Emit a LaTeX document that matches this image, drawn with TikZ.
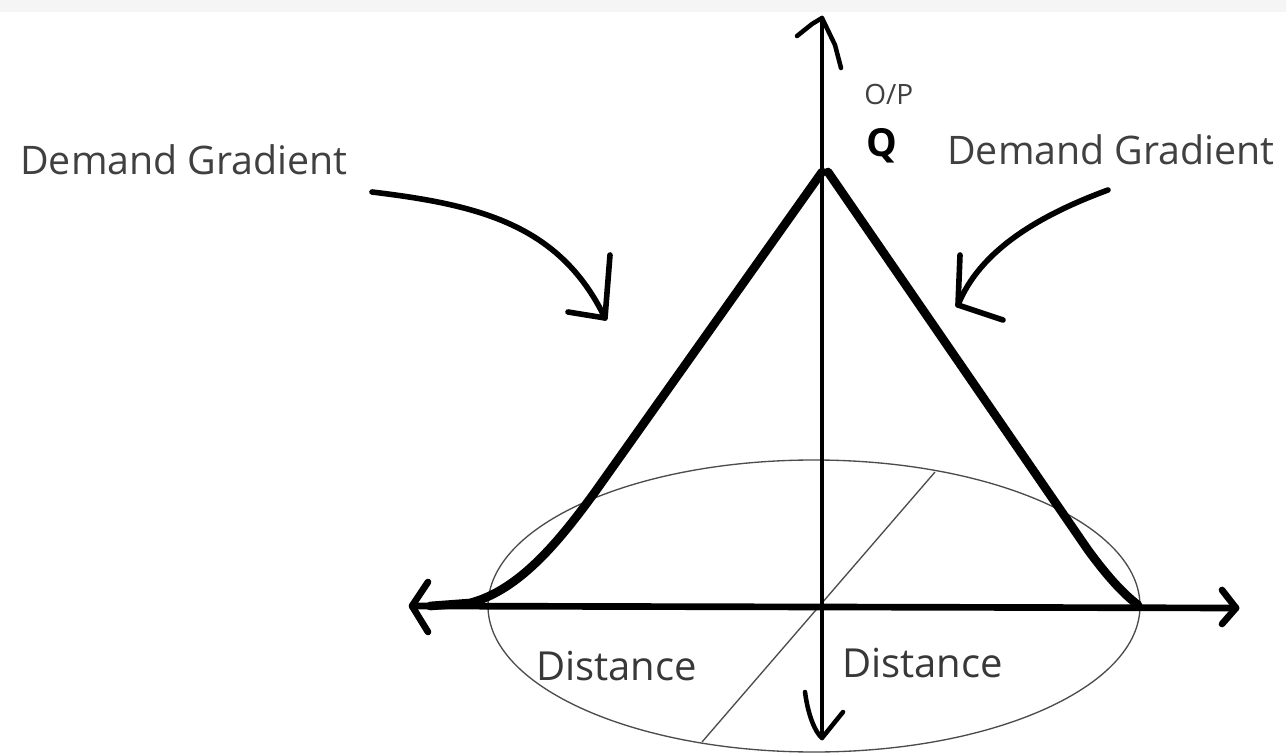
\documentclass[tikz,border=0pt]{standalone}
\usepackage{fontspec}
\setmainfont{Open Sans}
\begin{document}
\begin{tikzpicture}[x=0.75pt,y=-0.75pt,
  lbl/.style={text=black!75, inner sep=0pt, font=\fontsize{29.5}{31}\selectfont},
  dist/.style={text=black!78, inner sep=0pt, font=\fontsize{30}{32}\selectfont},
  axis/.style={line width=5pt, line cap=round, line join=round},
  vaxis/.style={line width=3.4pt, line cap=round, line join=round},
  thick3/.style={line width=6.5pt, line cap=round, line join=round},
  pen/.style={line width=4.2pt, line cap=round, line join=round},
  thin1/.style={line width=1pt, draw=black!70}]
\useasboundingbox (0,0) rectangle (1286,756);
\fill[white] (0,0) rectangle (1286,756);
\fill[black!4] (0,0) rectangle (1286,12);

% coordinates
\coordinate (O) at (822,607);
\coordinate (top) at (822,18);
\coordinate (bot) at (822,738);
\coordinate (left) at (412,606);
\coordinate (right) at (1236,608);
\coordinate (peak) at (822,172);
\coordinate (ldiag) at (935,472);
\coordinate (rdiag) at (702,742);

% ellipse
\draw[thin1] (814,606) ellipse [x radius=326, y radius=146];
% diagonal
\draw[thin1] (ldiag) -- (rdiag);

% vertical axis
\draw[vaxis] (top) -- (bot);
\draw[vaxis] (797,36) -- (812,24) -- (top) -- (835,45) -- (841,68);
\draw[vaxis] (805,692) .. controls (808,715) and (815,732) .. (bot) -- (843,712);

% horizontal axis
\draw[axis] (left) -- (right);
\draw[axis] (428,582) -- (left) -- (428,632);
\draw[axis] (1222,590) -- (right) -- (1222,624);

% demand cone
\draw[thick3] (430,606) -- (470,603) .. controls (520,590) and (560,540) .. (595,492) -- (peak);
\draw[thick3] (828,172) -- (1088,550) .. controls (1110,580) and (1125,595) .. (1138,605);

% curved arrows
\coordinate (la) at (372,192);
\coordinate (lt) at (605,318);
\draw[pen] (la) .. controls (480,205) and (560,225) .. (lt);
\draw[pen] (610,255) -- (lt) -- (568,312);
\coordinate (ra) at (1108,190);
\coordinate (rt) at (958,305);
\draw[pen] (ra) .. controls (1040,215) and (980,250) .. (rt);
\draw[pen] (960,255) -- (rt) -- (1003,320);

% labels
\node[lbl, anchor=west] (dgl) at (20,160) {Demand Gradient};
\node[lbl, anchor=west] (dgr) at (947,150) {Demand Gradient};
\node[inner sep=0pt, text=black!75, font=\fontsize{21}{23}\selectfont, anchor=west] (op) at (864,94) {O/P};
\node[inner sep=0pt, font=\fontsize{29}{31}\selectfont\bfseries, anchor=west] (q) at (866,146) {Q};
\node[dist, anchor=west] (d1) at (536,666) {Distance};
\node[dist, anchor=west] (d2) at (842,663) {Distance};
\end{tikzpicture}
\end{document}
